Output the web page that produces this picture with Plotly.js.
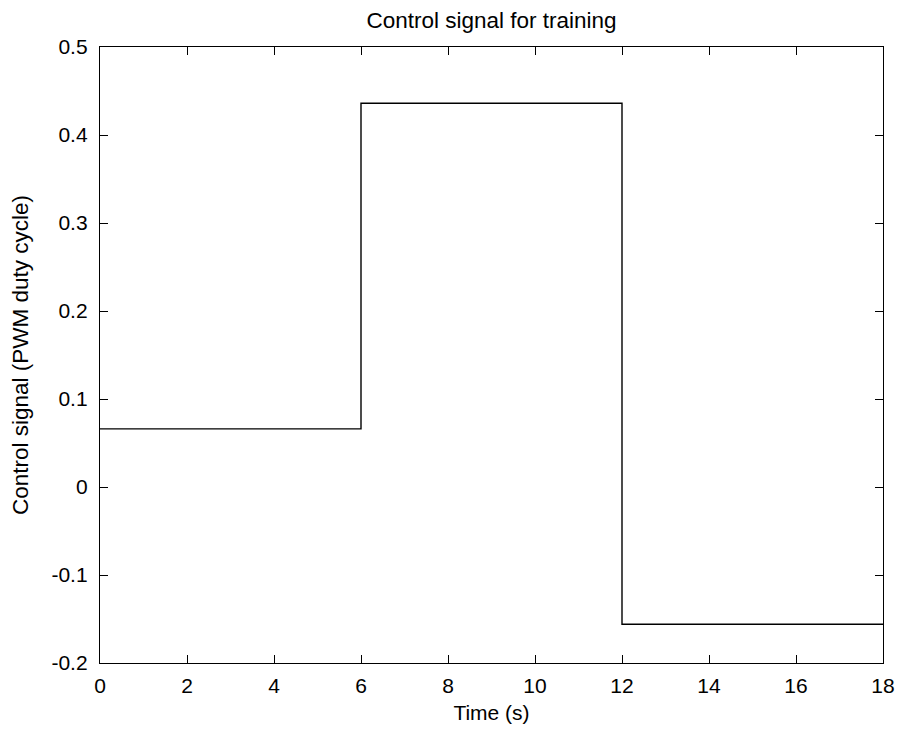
<!DOCTYPE html>
<html>
<head>
<meta charset="utf-8">
<script src="https://cdn.plot.ly/plotly-3.0.1.min.js"></script>
<style>html,body{margin:0;padding:0;background:#fff;}#chart{width:897px;height:729px;}</style>
</head>
<body>
<div id="chart"></div>
<script>
const stepTimes = [0, 6, 12, 18];
const controlValues = [0.066, 0.436, -0.156, -0.156];
const xTicks = [0, 2, 4, 6, 8, 10, 12, 14, 16, 18];
const yTicks = [-0.2, -0.1, 0, 0.1, 0.2, 0.3, 0.4, 0.5];
const yTickLabels = ['-0.2', '-0.1', '0', '0.1', '0.2', '0.3', '0.4', '0.5'];

const fontFam = 'Liberation Sans, Arial, sans-serif';
const fs = 21;
const trace = {
  x: stepTimes, y: controlValues, type: 'scatter', mode: 'lines',
  line: {shape: 'hv', color: '#000', width: 1.4}, hoverinfo: 'none'
};
const axisCommon = {
  showgrid: false, zeroline: false, showline: true, linecolor: '#000', linewidth: 1.2,
  mirror: 'ticks', ticks: 'inside', ticklen: 8, tickcolor: '#000', tickwidth: 1,
  tickfont: {family: fontFam, size: fs, color: '#000'}
};
const layout = {
  width: 897, height: 729,
  margin: {l: 100, r: 14, t: 47, b: 66},
  paper_bgcolor: '#fff', plot_bgcolor: '#fff',
  showlegend: false,
  title: {text: 'Control signal for training', font: {family: fontFam, size: 22.5, color: '#000'}, xref: 'paper', x: 0.5, xanchor: 'center', y: 0.972, yanchor: 'middle'},
  xaxis: Object.assign({}, axisCommon, {
    range: [0, 18], tickvals: xTicks, ticktext: xTicks.map(String), ticklabelstandoff: 4,
    title: {text: 'Time (s)', font: {family: fontFam, size: fs, color: '#000'}, standoff: 8}
  }),
  yaxis: Object.assign({}, axisCommon, {
    range: [-0.2, 0.5], tickvals: yTicks, ticktext: yTickLabels, ticklabelstandoff: 7,
    title: {text: 'Control signal (PWM duty cycle)', font: {family: fontFam, size: 22.5, color: '#000'}, standoff: 16}
  })
};
Plotly.newPlot('chart', [trace], layout, {displayModeBar: false, staticPlot: true});
</script>
</body>
</html>
